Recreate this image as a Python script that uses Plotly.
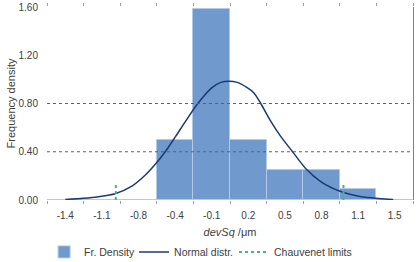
import plotly.graph_objects as go

# ---- data ----
categories = ["-1.4", "-1.1", "-0.8", "-0.4", "-0.1", "0.2", "0.5", "0.8", "1.1", "1.5"]
fr_density = [0, 0, 0, 0.5, 1.58, 0.5, 0.25, 0.25, 0.09, 0]

# normal curve, x in category-index units (0 = first category centre)
normal_x = [0, 0.5, 0.9, 1.36, 1.82, 2.18, 2.47, 2.73, 3.01, 3.28, 3.62, 4.0, 4.25, 4.47,
            4.7, 4.95, 5.16, 5.34, 5.62, 5.89, 6.21, 6.58, 6.99, 7.36, 7.63, 7.99, 8.37, 8.73, 8.96]
normal_y = [0.004, 0.014, 0.027, 0.052, 0.115, 0.205, 0.30, 0.40, 0.525, 0.65, 0.80, 0.93, 0.975, 0.985,
            0.975, 0.935, 0.885, 0.80, 0.65, 0.525, 0.40, 0.257, 0.15, 0.09, 0.06, 0.034, 0.018, 0.008, 0.004]

chauvenet_x = [1.38, 7.6]
chauvenet_top = 0.15

y_ticks = [0, 0.4, 0.8, 1.2, 1.6]
grid_values = [0.4, 0.8]

FONT = "Liberation Sans"
TXT = "#404040"

ch_x, ch_y = [], []
for cx in chauvenet_x:
    ch_x += [cx, cx, None]
    ch_y += [0, chauvenet_top, None]

fig = go.Figure()
fig.add_trace(go.Bar(
    x=categories, y=fr_density, name="Fr. Density",
    marker=dict(color="#7099cd", line=dict(color="#b4c9e6", width=1)),
    width=1.0, xaxis="x", yaxis="y", legend="legend",
))
fig.add_trace(go.Scatter(
    x=normal_x, y=normal_y, name="Normal distr.", mode="lines",
    line=dict(color="#1c3a78", width=1.5, shape="spline", smoothing=0.8),
    xaxis="x2", yaxis="y", legend="legend2",
))
fig.add_trace(go.Scatter(
    x=ch_x, y=ch_y, name="Chauvenet limits", mode="lines",
    line=dict(color="#3dbb7a", width=2, dash="dot"),
    xaxis="x2", yaxis="y2", legend="legend3",
))

shapes = [dict(type="line", xref="paper", x0=0, x1=1, yref="y", y0=g, y1=g,
               line=dict(color="#606060", width=1, dash="dot"), layer="above")
          for g in grid_values]

leg_common = dict(orientation="h", y=-0.269, yanchor="middle", xanchor="left",
                  font=dict(size=10.5, color=TXT), itemwidth=30, bgcolor="rgba(0,0,0,0)")

fig.update_layout(
    width=420, height=262,
    margin=dict(l=47, r=7, t=7, b=62, autoexpand=False),
    paper_bgcolor="white", plot_bgcolor="white",
    font=dict(family=FONT, size=10, color=TXT),
    bargap=0,
    showlegend=True,
    legend=dict(x=-0.008, **leg_common),
    legend2=dict(x=0.238, **leg_common),
    legend3=dict(x=0.511, **leg_common),
    xaxis=dict(type="category", categoryorder="array", categoryarray=categories,
               range=[-0.5, 9.5], tickson="boundaries", ticks="outside", ticklen=3,
               tickcolor="#a0a0a0", mirror="ticks", showline=False, showgrid=False,
               automargin=False, ticklabelstandoff=8,
               tickfont=dict(size=10, color=TXT),
               title=dict(text="<i>devSq</i> /μm", font=dict(size=11, color=TXT), standoff=8)),
    xaxis2=dict(overlaying="x", range=[-0.5, 9.5], visible=False),
    yaxis=dict(range=[0, 1.6], tickvals=y_ticks, tickformat=".2f", showgrid=False,
               zeroline=False, showline=False, ticks="", ticklabelstandoff=8,
               automargin=False, tickfont=dict(size=10, color=TXT),
               title=dict(text="Frequency density", font=dict(size=11, color=TXT), standoff=0)),
    yaxis2=dict(overlaying="y", side="right", range=[0, 1.6], showgrid=False, zeroline=False,
                showline=True, linecolor="#808080", linewidth=1, ticks="", showticklabels=False,
                automargin=False),
    shapes=shapes,
)

fig.write_html("out.html", config={"displayModeBar": False},
               post_script="document.body.style.margin='0';document.body.style.padding='0';")
